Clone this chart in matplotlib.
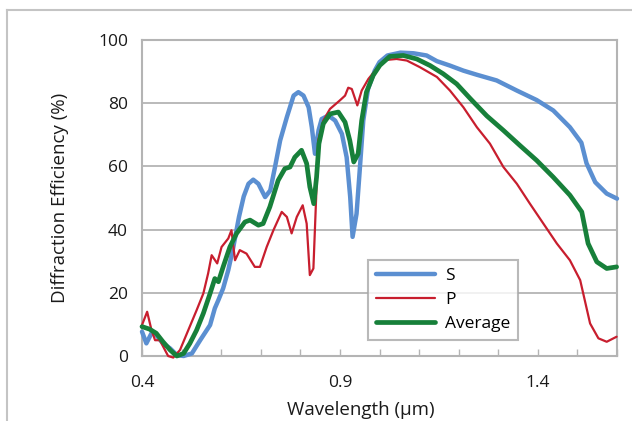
import matplotlib
matplotlib.use("Agg")
import matplotlib.pyplot as plt
from matplotlib.lines import Line2D

# ---- data ----
s_wl = [0.400, 0.411, 0.426, 0.436, 0.453, 0.471, 0.488, 0.505, 0.526, 0.547, 0.572, 0.584,
        0.593, 0.605, 0.618, 0.630, 0.645, 0.657, 0.669, 0.681, 0.694, 0.711, 0.724, 0.736,
        0.749, 0.766, 0.783, 0.795, 0.808, 0.821, 0.829, 0.837, 0.846, 0.854, 0.871, 0.888,
        0.905, 0.917, 0.926, 0.932, 0.942, 0.950, 0.959, 0.971, 0.988, 1.000, 1.020, 1.053,
        1.086, 1.119, 1.145, 1.178, 1.212, 1.246, 1.296, 1.347, 1.397, 1.439, 1.481, 1.510,
        1.523, 1.545, 1.574, 1.600]
s_eff = [7.7, 4.0, 7.7, 6.6, 4.0, 2.4, 0.3, 0.0, 0.8, 5.0, 9.8, 15.1,
         17.7, 21.4, 27.2, 34.0, 44.0, 50.5, 54.5, 55.8, 54.5, 50.3, 52.4, 59.8,
         68.2, 75.6, 82.4, 83.5, 82.4, 78.7, 72.4, 64.0, 71.4, 75.0, 76.1, 74.5,
         70.3, 62.9, 50.3, 37.7, 45.0, 58.7, 74.5, 84.5, 90.3, 93.0, 95.1, 96.0,
         95.8, 95.1, 93.3, 91.9, 90.3, 89.0, 87.2, 84.0, 81.0, 77.7, 72.4, 67.5,
         61.0, 55.0, 51.4, 49.8]

p_wl = [0.400, 0.413, 0.424, 0.433, 0.445, 0.458, 0.466, 0.479, 0.496, 0.517, 0.538, 0.555,
        0.567, 0.576, 0.590, 0.601, 0.618, 0.626, 0.635, 0.647, 0.664, 0.685, 0.698, 0.715,
        0.732, 0.753, 0.766, 0.778, 0.791, 0.806, 0.816, 0.824, 0.833, 0.840, 0.845, 0.858,
        0.875, 0.900, 0.913, 0.921, 0.930, 0.944, 0.955, 0.972, 0.993, 1.001, 1.018, 1.043,
        1.069, 1.102, 1.145, 1.178, 1.212, 1.246, 1.279, 1.313, 1.347, 1.380, 1.414, 1.448,
        1.481, 1.507, 1.532, 1.553, 1.574, 1.599]
p_eff = [9.8, 14.0, 8.2, 5.0, 5.0, 1.9, 0.0, -0.5, 1.9, 8.2, 14.5, 19.8,
         26.1, 31.9, 29.3, 34.5, 37.2, 39.8, 30.3, 33.5, 32.4, 28.2, 28.2, 34.5,
         39.8, 45.6, 44.0, 38.8, 44.0, 47.7, 41.9, 25.6, 27.7, 50.3, 68.2, 74.5,
         78.2, 80.9, 82.4, 84.9, 84.5, 79.3, 84.0, 87.7, 90.9, 91.9, 93.7, 94.0,
         93.5, 91.4, 88.3, 84.0, 78.7, 72.4, 67.2, 59.8, 54.5, 48.2, 41.9, 35.6,
         30.3, 24.0, 10.3, 5.6, 4.5, 6.1]

a_wl = [0.400, 0.419, 0.436, 0.453, 0.471, 0.488, 0.505, 0.521, 0.538, 0.555, 0.572, 0.584,
        0.593, 0.605, 0.622, 0.639, 0.660, 0.673, 0.694, 0.706, 0.723, 0.744, 0.761, 0.774,
        0.786, 0.803, 0.816, 0.824, 0.834, 0.841, 0.847, 0.858, 0.875, 0.896, 0.913, 0.925,
        0.935, 0.946, 0.955, 0.967, 0.984, 1.001, 1.026, 1.060, 1.094, 1.128, 1.161, 1.195,
        1.229, 1.271, 1.313, 1.355, 1.397, 1.439, 1.481, 1.511, 1.527, 1.549, 1.574, 1.599]
a_eff = [9.3, 8.5, 7.2, 4.5, 1.9, 0.0, 0.8, 4.0, 8.2, 13.5, 19.8, 24.5,
         23.5, 28.2, 34.5, 38.8, 42.4, 43.0, 41.4, 41.9, 47.2, 55.6, 59.3, 59.8,
         62.9, 65.1, 60.9, 53.5, 48.2, 56.6, 67.2, 73.5, 76.6, 77.2, 74.0, 68.2,
         61.4, 64.0, 74.5, 83.5, 88.8, 92.0, 94.8, 95.1, 94.0, 91.9, 89.3, 86.1,
         81.5, 76.0, 71.4, 66.6, 61.9, 56.6, 50.9, 45.6, 35.6, 29.8, 27.7, 28.2]

x_ticks = [0.4, 0.5, 0.6, 0.7, 0.8, 0.9, 1.0, 1.1, 1.2, 1.3, 1.4, 1.5, 1.6]
x_labels = ["0.4", "", "", "", "", "0.9", "", "", "", "", "1.4", "", ""]
y_ticks = [0, 20, 40, 60, 80, 100]

# ---- style ----
plt.rcParams['font.family'] = ['Open Sans', 'DejaVu Sans']
BLUE = "#5B8FD1"
RED = "#C81E2E"
GREEN = "#17803A"
GRAY = "#B4B4B4"

fig = plt.figure(figsize=(6.32, 4.21), dpi=100)
ax = fig.add_axes([142/632, 1-356/421, 475/632, 316/421])

ax.set_xlim(0.4, 1.6)
ax.set_ylim(0, 100)

for yv in y_ticks[1:]:
    ax.axhline(yv, color=GRAY, lw=1.3, zorder=1)

kw = dict(solid_joinstyle='round', solid_capstyle='round', clip_on=False, zorder=3)
ax.plot(s_wl, s_eff, color=BLUE, lw=3.2, label="S", **kw)
ax.plot(p_wl, p_eff, color=RED, lw=1.6, label="P", **kw)
ax.plot(a_wl, a_eff, color=GREEN, lw=3.4, label="Average", **kw)

for sp in ax.spines.values():
    sp.set_color(GRAY)
    sp.set_linewidth(1.5)

ax.set_xticks(x_ticks)
ax.set_xticklabels(x_labels)
ax.set_yticks(y_ticks)
ax.set_yticklabels([str(v) for v in y_ticks])
ax.tick_params(axis='x', direction='in', length=5, width=1, color=GRAY,
               labelsize=12.5, pad=14, labelcolor='#1a1a1a')
ax.tick_params(axis='y', length=0, labelsize=12.5, pad=10, labelcolor='#1a1a1a')

ax.set_ylabel("Diffraction Efficiency (%)", fontsize=13.5, color='#1a1a1a', labelpad=21)
fig.text(361/632, 1-410/421, "Wavelength (µm)", ha='center', va='center',
         fontsize=13.5, color='#1a1a1a')

leg = ax.legend(loc='upper left', bbox_to_anchor=((368-142)/475, (356-260)/316),
                borderaxespad=0, fancybox=False, frameon=True, fontsize=12.5,
                handlelength=3.4, handletextpad=0.6, labelspacing=0.45,
                borderpad=0.45)
leg.get_frame().set_edgecolor("#A8A8A8")
leg.get_frame().set_linewidth(1.5)
leg.set_zorder(5)

# outer chart border (only left and top visible in the crop)
fig.add_artist(Line2D([7/632, 7/632], [0, 1-10/421], transform=fig.transFigure,
                      color="#C4C4C4", lw=1.5))
fig.add_artist(Line2D([7/632, 1], [1-10/421, 1-10/421], transform=fig.transFigure,
                      color="#C4C4C4", lw=1.5))

fig.savefig("out.png", dpi=100)
